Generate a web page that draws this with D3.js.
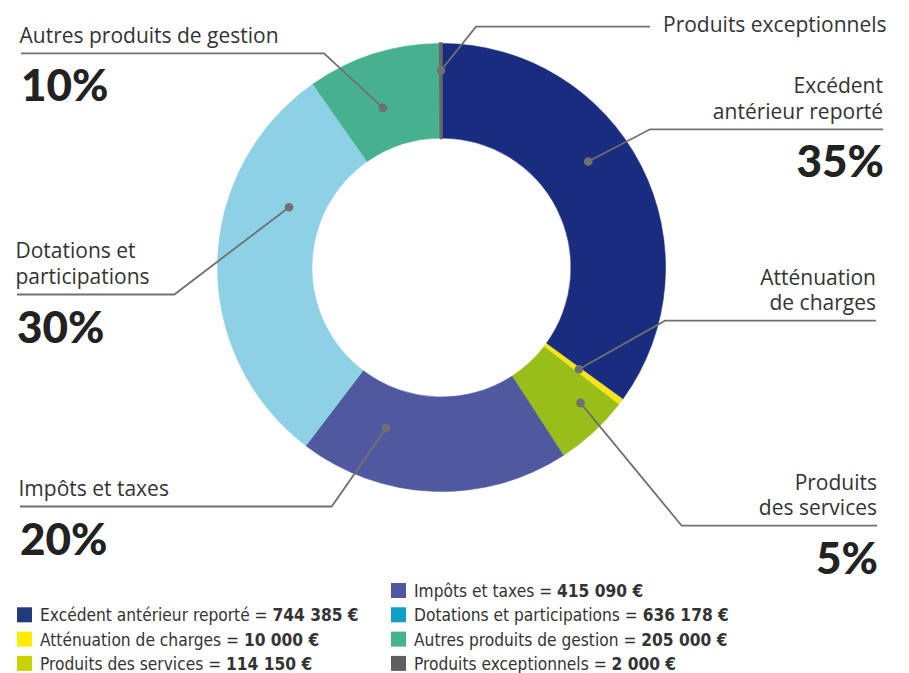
<!DOCTYPE html>
<html>
<head>
<meta charset="utf-8">
<script src="https://cdn.jsdelivr.net/npm/d3@7"></script>
<style>
  body { margin: 0; background: #fff; }
  .label { font-family: "Open Sans", sans-serif; font-size: 21px; fill: #333; }
  .pct { font-family: Lato, sans-serif; font-weight: 900; font-size: 44px; fill: #222; }
  .legendText { font-family: "DejaVu Sans Condensed", sans-serif; font-size: 18.5px; fill: #333; }
</style>
</head>
<body>
<svg class="chart"></svg>
<script>
/*Chart data*/
const categories = ["Excédent antérieur reporté", "Atténuation de charges", "Produits des services",
                    "Impôts et taxes", "Dotations et participations", "Autres produits de gestion",
                    "Produits exceptionnels"]
const amounts = [744385, 10000, 114150, 415090, 636178, 205000, 2000]

/*Colours: ring and legend differ slightly in the original*/
const sliceColors = ["#1a2c7f", "#f7e41c", "#99bd19", "#5059a0", "#8ed1e6", "#47b18f", "#686868"]
const legendColors = ["#213a7a", "#ffec00", "#c9d300", "#5257a3", "#109fc7", "#46b28f", "#5f5f5f"]

const width = 909,
      height = 673,
      cx = 441.5,
      cy = 267.5,
      outerR = 224,
      innerR = 129.5

var chart = d3.select(".chart")
    .attr("width", width)
    .attr("height", height)

var total = d3.sum(amounts)

var pie = d3.pie().sort(null).value((d) => d.value)
var arc = d3.arc().innerRadius(innerR).outerRadius(outerR)

var slices = pie(categories.map((c, i) => ({ name: c, value: amounts[i], i: i })))

/*The ring*/
var ring = chart.append("g")
    .attr("transform", "translate(" + cx + "," + cy + ")")

ring.selectAll("path")
  .data(slices)
  .enter()
  .append("path")
    .attr("d", arc)
    .attr("fill", (d) => sliceColors[d.data.i])
    .attr("stroke", (d) => sliceColors[d.data.i])
    .attr("stroke-width", (d) => d.data.i === 6 ? 2.5 : 0.6)

/*Callout layout: where the dot sits in the slice, elbow and end of the leader line*/
var callouts = [
  { i: 0, t: 0.43, r: 181, elbow: [650, 129.3], end: 883, anchor: "end", lines: ["Excédent", "antérieur reporté"], gap: 25.7, pct: true },
  { i: 1, t: 0.3, r: 171, elbow: [665, 320.7], end: 876, anchor: "end", lines: ["Atténuation", "de charges"], gap: 25.6, pct: false },
  { i: 2, t: 0.34, r: 194, elbow: [681.7, 525.7], end: 877, anchor: "end", lines: ["Produits", "des services"], gap: 25.6, pct: true },
  { i: 3, t: 0.74, r: 170, elbow: [331.7, 506.5], end: 20, anchor: "start", lines: ["Impôts et taxes"], gap: 25, pct: true },
  { i: 4, t: 0.69, r: 164, elbow: [174.3, 294.5], end: 17, anchor: "start", lines: ["Dotations et", "participations"], gap: 25.6, pct: true },
  { i: 5, t: 0.43, r: 170, elbow: [324, 53.3], end: 21, anchor: "start", lines: ["Autres produits de gestion"], gap: 25, pct: true },
  { i: 6, t: 0.5, r: 197, elbow: [476, 26.7], end: 650, anchor: "side", lines: ["Produits exceptionnels"], gap: 25, pct: false }
]

var callG = chart.append("g").attr("class", "callouts")

callouts.forEach((c) => {
  var s = slices[c.i],
      a = s.startAngle + c.t * (s.endAngle - s.startAngle),
      dot = [cx + c.r * Math.sin(a), cy - c.r * Math.cos(a)]

  callG.append("path")
      .attr("d", d3.line()([dot, c.elbow, [c.end, c.elbow[1]]]))
      .attr("fill", "none")
      .attr("stroke", "#707070")
      .attr("stroke-width", 1.8)

  callG.append("circle")
      .attr("cx", dot[0])
      .attr("cy", dot[1])
      .attr("r", 4.3)
      .attr("fill", "#707070")

  if (c.anchor === "side") {
    callG.append("text")
        .attr("class", "label")
        .attr("x", c.end + 13)
        .attr("y", c.elbow[1] + 5)
        .text(c.lines[0])
    return
  }

  var tx = c.anchor === "end" ? c.end : c.end - 1.5,
      n = c.lines.length

  c.lines.forEach((l, k) => {
    callG.append("text")
        .attr("class", "label")
        .attr("text-anchor", c.anchor)
        .attr("x", tx)
        .attr("y", c.elbow[1] - 10.5 - (n - 1 - k) * c.gap)
        .text(l)
  })

  if (c.pct) {
    callG.append("text")
        .attr("class", "pct")
        .attr("text-anchor", c.anchor)
        .attr("x", c.anchor === "end" ? c.end + 1 : c.end)
        .attr("y", c.elbow[1] + 48)
        .text(Math.round(amounts[c.i] / total * 100) + "%")
  }
})

/*Legend*/
var fr = d3.formatLocale({ decimal: ",", thousands: " ", grouping: [3], currency: ["", " €"] })
var euro = fr.format("$,.0f")

var legendPos = [[0, 1], [0, 2], [0, 3], [1, 0], [1, 1], [1, 2], [1, 3]]
var colX = [17, 391]

var legend = chart.append("g")
    .attr("class", "legend")
  .selectAll("g")
  .data(categories)
  .enter()
  .append("g")
    .attr("transform", (d, i) => "translate(" + colX[legendPos[i][0]] + "," + (597 + legendPos[i][1] * 24.3) + ")")

legend.append("rect")
    .attr("x", 0)
    .attr("y", -14)
    .attr("width", 15)
    .attr("height", 15)
    .attr("fill", (d, i) => legendColors[i])

/*The original legend face is narrow, so squeeze the text a little*/
var lt = legend.append("text")
    .attr("class", "legendText")
    .attr("transform", "translate(23,0) scale(0.93,1)")

lt.append("tspan").text((d) => d + " = ")
lt.append("tspan").attr("font-weight", "bold").text((d, i) => euro(amounts[i]))
</script>
</body>
</html>
